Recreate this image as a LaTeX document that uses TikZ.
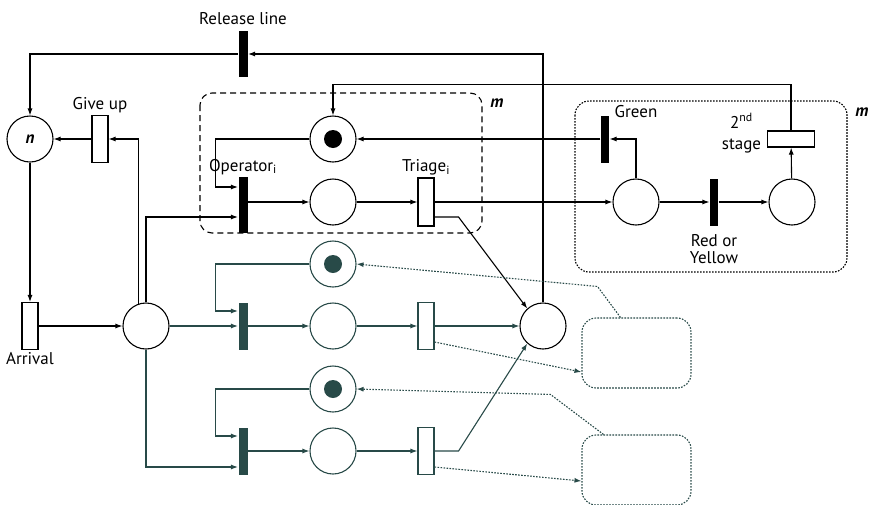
\documentclass[tikz,border=0pt]{standalone}
\usepackage{fontspec}
\setmainfont{PT Sans}
\usetikzlibrary{arrows.meta,positioning}
\definecolor{branch}{RGB}{40,74,72}

\tikzset{
  place/.style={circle, draw, minimum size=46pt, inner sep=0pt},
  bar/.style={rectangle, fill=black, minimum width=9pt, minimum height=47pt, inner sep=0pt},
  trans/.style={rectangle, draw, fill=white, minimum width=16pt, minimum height=47pt, inner sep=0pt},
  fine dots/.style={dash pattern=on 1.6pt off 1.4pt, line width=1.1pt},
  dbox/.style={rectangle, draw, fine dots, rounded corners=14pt, minimum width=109pt, minimum height=70pt},
}

\begin{document}
\begin{tikzpicture}[x=1pt, y=-1pt, line width=1.1pt, >={Latex[length=7pt,width=5pt]},
    font=\fontsize{17}{17}\selectfont]
    \useasboundingbox (0,0) rectangle (872,504);

        % Groups
        \draw[dash pattern=on 6pt off 4pt, rounded corners=12pt] (200,93) rectangle (482,233);
        \node (m1) at (497,103) {\bfseries\itshape m};
        \draw[fine dots, rounded corners=14pt] (575,101) rectangle (847,272);
        \node (m2) at (862,112) {\bfseries\itshape m};

        % Arrival side
        \node[place] (n) at (30,139) {\bfseries\itshape n};
        \node[trans, label={[label distance=-2pt]above:Give up}] (giveup) at (100,139) {};
        \node[bar, minimum height=46pt, label={[label distance=2pt]above:Release line}] (release) at (243,54) {};
        \node[trans, label={[label distance=-2pt]below:Arrival}] (arrival) at (30,326) {};
        \node[place] (big) at (146,326) {};
        \node[place] (collect) at (543,326) {};

        % Operator i and triage i
        \node[place] (tok1) at (333,139) {};
        \fill (tok1) circle (9);
        \node[bar, minimum height=56pt, label={[label distance=-2pt]above:Operator\textsubscript{i}}] (op1) at (243,205) {};
        \node[place] (p1) at (333,202) {};
        \node[trans, minimum height=48pt, label={[label distance=-2pt]above:Triage\textsubscript{i}}] (tri1) at (426,202) {};

        % Second stage
        \node[bar, minimum width=8pt] (green) at (605,139) {};
        \node (lgreen) at (636,112) {Green};
        \node[place] (gp) at (636,202) {};
        \node[bar, minimum width=8pt, label={[align=center, label distance=5pt]below:Red or\\Yellow}] (red) at (714,202) {};
        \node[place] (rp) at (792,202) {};
        \node[trans, minimum width=47pt, minimum height=16pt,
              label={[align=center, label distance=2pt, yshift=6pt]left:2\textsuperscript{nd}\\[4pt]stage}] (stage2) at (791,139) {};

        \foreach \k/\y in {2/326, 3/451}
            {
                % Other operators
                \node[place, draw=branch] (tok\k) at (333,\y-62) {};
                \fill[branch] (tok\k) circle (9);
                \node[bar, fill=branch] (op\k) at (243,\y) {};
                \node[place, draw=branch] (p\k) at (333,\y) {};
                \node[trans, draw=branch] (tri\k) at (426,\y) {};
                \draw[->, branch] (tok\k.west) -- ++(-94,0) |- ([yshift=15pt]op\k.west);
                \draw[->, branch] (op\k) -- (p\k);
                \draw[->, branch] (p\k) -- (tri\k);
            }

        % Other second stages
        \node[dbox, draw=branch] (boxA) at (636.5,353) {};
        \node[dbox, draw=branch] (boxB) at (636.5,470) {};

        % Arcs
        \draw[->] (collect.north) |- (release.east);
        \draw[->] (release.west) -| (n.north);
        \draw[->] (giveup) -- (n);
        \draw[->] (n) -- (arrival);
        \draw[->] (arrival) -- (big);
        \draw[->] (big.108) |- (giveup.east);
        \draw[->] (big.north) |- ([yshift=-12pt]op1.west);
        \draw[->] (tok1.west) -- ++(-94,0) |- ([yshift=18pt]op1.west);
        \draw[->] (op1.east |- p1.west) -- (p1.west);
        \draw[->] (p1) -- (tri1);
        \draw[->] (tri1) -- (gp);
        \draw[->] ([yshift=-15pt]tri1.east) -- ++(24,0) -- (collect.132);
        \draw[->] (green) -- (tok1);
        \draw[->] (gp.north) |- (green.east);
        \draw[->] (gp) -- (red);
        \draw[->] (red) -- (rp);
        \draw[->] (rp) -- (stage2);
        \draw[->] (stage2.north) -- ++(0,-46) -| (tok1.north);

        \draw[->, branch] (big) -- (op2);
        \draw[->, branch] (big.south) |- ([yshift=-16pt]op3.west);
        \draw[->, branch] (tri2) -- (collect);
        \draw[->, branch] (tri3.east) -- ++(24,0) -- (collect.228);

        \draw[->, branch, fine dots] ([yshift=-16pt]tri2.east) -- ([yshift=-19pt]boxA.west);
        \draw[->, branch, fine dots] ([yshift=-16pt]tri3.east) -- ([yshift=-11pt]boxB.west);
        \draw[->, branch, fine dots] ([xshift=-16pt]boxA.north) -- ++(-23,-31) -- (tok2.east);
        \draw[->, branch, fine dots] ([xshift=-33pt]boxB.north) -- ++(-53,-40) -- (tok3.east);

    \end{tikzpicture}
\end{document}
